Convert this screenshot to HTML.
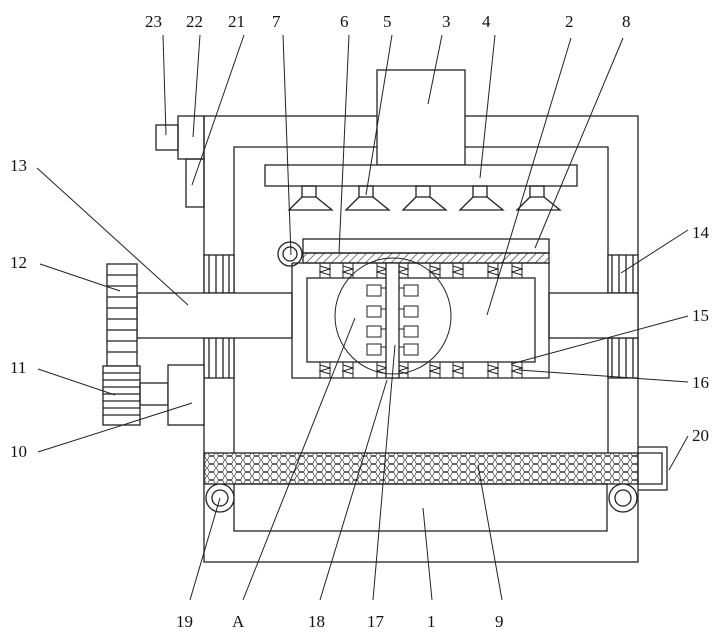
<!DOCTYPE html>
<html><head><style>body{margin:0;background:#fff}svg{display:block}text{font-family:"Liberation Serif",serif;font-size:17px;fill:#111}</style></head><body>
<svg width="723" height="638" viewBox="0 0 723 638" xmlns="http://www.w3.org/2000/svg">
<defs>
<pattern id="hex" width="9" height="8" patternUnits="userSpaceOnUse">
<polygon points="2.2,0.5 6.8,0.5 8.5,4 6.8,7.5 2.2,7.5 0.5,4" fill="none" stroke="#333" stroke-width="0.7"/>
</pattern>
<pattern id="hatch" width="6" height="6" patternUnits="userSpaceOnUse" patternTransform="rotate(45)">
<line x1="0" y1="0" x2="0" y2="6" stroke="#222" stroke-width="1.2"/>
</pattern>
</defs>
<g fill="none" stroke="#222" stroke-width="1.3">
<!-- outer frame -->
<rect x="204" y="116" width="434" height="446"/>
<path d="M234 453 V147 H608 V453"/>
<rect x="234" y="484" width="373" height="47"/>
<!-- mesh -->
<rect x="204" y="453" width="434" height="31" fill="url(#hex)"/>
<!-- bracket 20 -->
<path d="M638 447 H667 V490 H638"/><path d="M638 453 H662 V484 H638"/>
<!-- rollers -->
<circle cx="220" cy="498" r="14" fill="#fff"/><circle cx="220" cy="498" r="8"/>
<circle cx="623" cy="498" r="14" fill="#fff"/><circle cx="623" cy="498" r="8"/>
<!-- top items -->
<rect x="377" y="70" width="88" height="95" fill="#fff"/>
<rect x="265" y="165" width="312" height="21" fill="#fff"/>
<rect x="178" y="116" width="26" height="43"/>
<rect x="156" y="125" width="22" height="25"/>
<rect x="186" y="159" width="18" height="48"/>
<!-- nozzles -->
<g id="nz"><rect x="302" y="186" width="14" height="11"/><path d="M302 197 L289 210 H332 L316 197"/></g>
<use href="#nz" x="57"/><use href="#nz" x="114"/><use href="#nz" x="171"/><use href="#nz" x="228"/>
<!-- bearings -->
<rect x="204" y="255" width="30" height="38" fill="#fff"/><path d="M209 255V293M216 255V293M223 255V293M229 255V293"/>
<rect x="204" y="338" width="30" height="40" fill="#fff"/><path d="M209 338V378M216 338V378M223 338V378M229 338V378"/>
<rect x="608" y="255" width="30" height="38" fill="#fff"/><path d="M612 255V293M619 255V293M626 255V293M633 255V293"/>
<rect x="608" y="338" width="30" height="40" fill="#fff"/><path d="M612 338V378M619 338V378M626 338V378M633 338V378"/>
<!-- shafts -->
<rect x="137" y="293" width="155" height="45" fill="#fff"/>
<rect x="549" y="293" width="89" height="45" fill="#fff"/>
<!-- gears & motor -->
<rect x="107" y="264" width="30" height="102" fill="#fff"/>
<path d="M107 275H137M107 286H137M107 297H137M107 308H137M107 319H137M107 330H137M107 341H137M107 352H137"/>
<rect x="103" y="366" width="37" height="59" fill="#fff"/>
<path d="M103 373H140M103 380H140M103 387H140M103 394H140M103 401H140M103 408H140M103 415H140"/>
<rect x="140" y="383" width="28" height="22"/>
<rect x="168" y="365" width="36" height="60" fill="#fff"/>
<!-- central box -->
<rect x="303" y="239" width="246" height="14"/>
<rect x="303" y="253" width="246" height="10" fill="url(#hatch)"/>
<circle cx="290" cy="254" r="12" fill="#fff"/><circle cx="290" cy="254" r="7"/>
<path d="M292 263 V378 H549 V263 H292"/>
<rect x="307" y="278" width="228" height="84"/>
<g stroke-width="1">
<g id="sp"><rect x="320" y="263" width="10" height="15"/><path d="M320 266 L330 269 L320 272 L330 275"/><rect x="320" y="362" width="10" height="16"/><path d="M320 365 L330 368 L320 371 L330 374"/></g>
<use href="#sp" x="23"/><use href="#sp" x="57"/><use href="#sp" x="78"/><use href="#sp" x="110"/><use href="#sp" x="133"/><use href="#sp" x="168"/><use href="#sp" x="192"/>
</g>
<rect x="386" y="263" width="13" height="115" fill="#fff"/>
<g stroke-width="1">
<rect x="367" y="285" width="14" height="11"/><rect x="367" y="306" width="14" height="11"/><rect x="367" y="326" width="14" height="11"/><rect x="367" y="344" width="14" height="11"/>
<rect x="404" y="285" width="14" height="11"/><rect x="404" y="306" width="14" height="11"/><rect x="404" y="326" width="14" height="11"/><rect x="404" y="344" width="14" height="11"/>
<path d="M381 288H386M381 309H386M381 329H386M381 347H386M399 288H404M399 309H404M399 329H404M399 347H404"/>
</g>
<circle cx="393" cy="316" r="58" stroke-width="1"/>
</g>
<!-- leader lines -->
<g stroke="#222" stroke-width="1">
<line x1="163" y1="35" x2="166" y2="135"/>
<line x1="200" y1="35" x2="193" y2="137"/>
<line x1="244" y1="35" x2="192" y2="185"/>
<line x1="283" y1="35" x2="291" y2="255"/>
<line x1="349" y1="35" x2="339" y2="253"/>
<line x1="392" y1="35" x2="366" y2="195"/>
<line x1="442" y1="35" x2="428" y2="104"/>
<line x1="495" y1="35" x2="480" y2="178"/>
<line x1="571" y1="38" x2="487" y2="315"/>
<line x1="623" y1="38" x2="535" y2="248"/>
<line x1="688" y1="230" x2="621" y2="273"/>
<line x1="688" y1="316" x2="511" y2="364"/>
<line x1="688" y1="382" x2="519" y2="370"/>
<line x1="688" y1="436" x2="669" y2="470"/>
<line x1="37" y1="168" x2="188" y2="305"/>
<line x1="40" y1="264" x2="120" y2="291"/>
<line x1="38" y1="369" x2="115" y2="395"/>
<line x1="38" y1="452" x2="192" y2="403"/>
<line x1="190" y1="600" x2="220" y2="498"/>
<line x1="243" y1="600" x2="355" y2="318"/>
<line x1="320" y1="600" x2="387" y2="380"/>
<line x1="373" y1="600" x2="395" y2="345"/>
<line x1="432" y1="600" x2="423" y2="508"/>
<line x1="502" y1="600" x2="478" y2="465"/>
</g>
<text x="145" y="27">23</text><text x="186" y="27">22</text><text x="228" y="27">21</text>
<text x="272" y="27">7</text><text x="340" y="27">6</text><text x="383" y="27">5</text>
<text x="442" y="27">3</text><text x="482" y="27">4</text><text x="565" y="27">2</text><text x="622" y="27">8</text>
<text x="692" y="238">14</text><text x="692" y="321">15</text><text x="692" y="388">16</text><text x="692" y="441">20</text>
<text x="10" y="171">13</text><text x="10" y="268">12</text><text x="10" y="373">11</text><text x="10" y="457">10</text>
<text x="176" y="627">19</text><text x="232" y="627">A</text><text x="308" y="627">18</text><text x="367" y="627">17</text><text x="427" y="627">1</text><text x="495" y="627">9</text>
</svg>
</body></html>
